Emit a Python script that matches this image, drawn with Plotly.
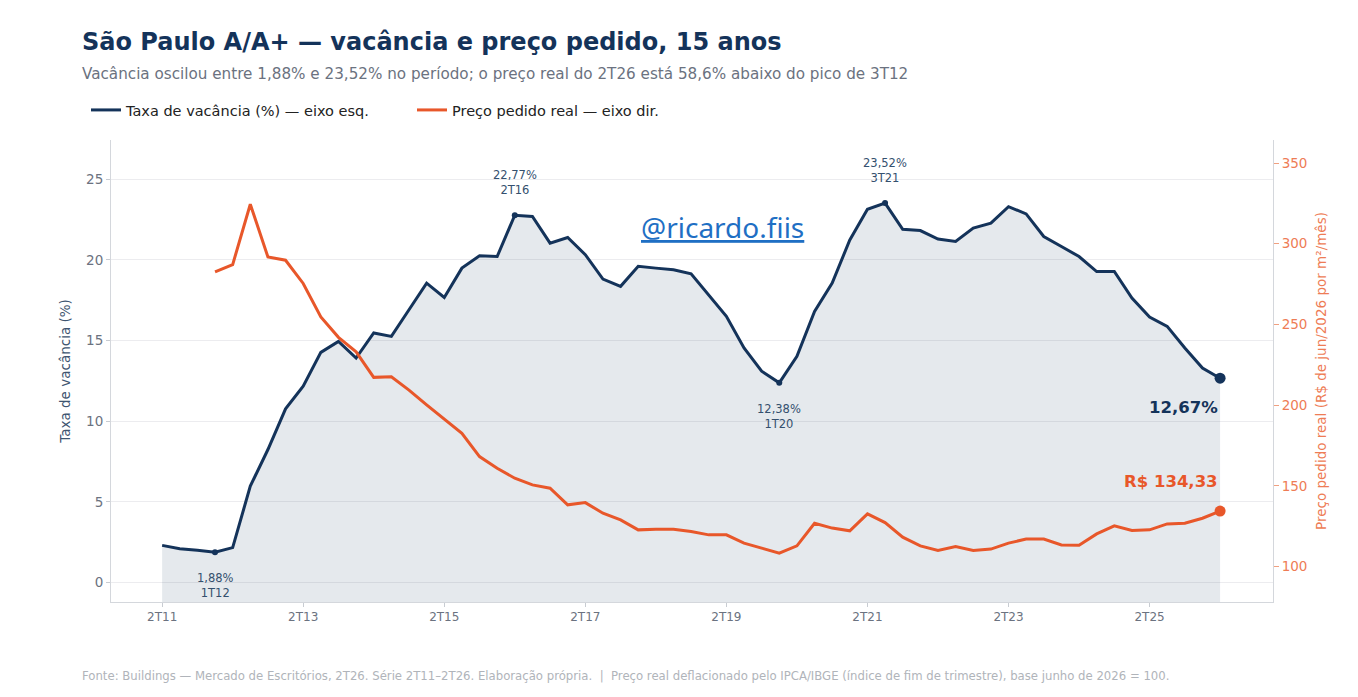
import plotly.graph_objects as go

# trimestres 2T11 .. 2T26
quarters = []
for yr in range(11, 27):
    for q in range(1, 5):
        if (yr == 11 and q < 2) or (yr == 26 and q > 2):
            continue
        quarters.append(f"{q}T{yr}")

tick_labels = ["2T11", "2T13", "2T15", "2T17", "2T19", "2T21", "2T23", "2T25"]

vacancia = [2.31, 2.10, 2.00, 1.88, 2.17, 5.98, 8.25, 10.77, 12.17, 14.27,
            14.95, 13.92, 15.47, 15.26, 16.91, 18.56, 17.67, 19.49, 20.25, 20.21,
            22.77, 22.69, 21.04, 21.39, 20.32, 18.81, 18.36, 19.60, 19.49, 19.39,
            19.14, 17.84, 16.50, 14.54, 13.10, 12.38, 14.03, 16.81, 18.56, 21.24,
            23.14, 23.52, 21.90, 21.82, 21.29, 21.14, 21.97, 22.28, 23.30, 22.85,
            21.45, 20.83, 20.21, 19.28, 19.28, 17.63, 16.46, 15.88, 14.54, 13.30,
            12.67]

preco = [None, None, None, 282.6, 287.1, 324.5, 291.8, 289.8, 275.4, 254.7,
         242.0, 233.0, 217.2, 217.6, 209.3, 200.1, 191.2, 182.5, 168.1, 160.9,
         154.7, 150.6, 148.5, 138.2, 139.6, 133.0, 128.9, 122.7, 123.1, 123.1,
         121.7, 119.6, 119.6, 114.5, 111.4, 108.3, 112.8, 126.8, 123.8, 122.1,
         132.6, 127.2, 118.2, 112.8, 109.9, 112.4, 109.9, 110.8, 114.5, 117.0,
         117.0, 113.4, 113.2, 120.2, 125.2, 122.3, 122.7, 126.4, 126.8, 129.9,
         134.33]

destaques = [("1T12", 1.88, "below"), ("2T16", 22.77, "above"),
             ("1T20", 12.38, "below"), ("3T21", 23.52, "above")]

NAVY = "#14335a"
ORANGE = "#e8572a"
GRAY = "#6b7280"
FONT = "DejaVu Sans"

y1_range = [-1.2, 27.43]
y2_range = [78, 364.3]

# area do grafico na pagina (px)
PL, PR, PT, PB = 111, 1273, 140, 602
OFF = 8  # margem do body


def px(xp):
    return (xp - PL) / (PR - PL)


def py(yp):
    return (PB - yp) / (PB - PT)


x = list(range(len(quarters)))

fig = go.Figure()

# preenchimento ate o fundo do eixo
fig.add_trace(go.Scatter(x=x, y=[y1_range[0]] * len(x), mode="lines",
                         line=dict(width=0), hoverinfo="skip", showlegend=False))
fig.add_trace(go.Scatter(x=x, y=vacancia, mode="lines", line=dict(width=0),
                         fill="tonexty", fillcolor="rgba(20,51,90,0.11)",
                         hoverinfo="skip", showlegend=False))

fig.add_trace(go.Scatter(x=x, y=vacancia, mode="lines", name="Taxa de vacância (%) — eixo esq.",
                         line=dict(color=NAVY, width=3), text=quarters))
fig.add_trace(go.Scatter(x=x, y=preco, mode="lines", name="Preço pedido real — eixo dir.",
                         line=dict(color=ORANGE, width=3), yaxis="y2", text=quarters))

# pontos de destaque
hx = [quarters.index(q) for q, v, p in destaques]
hy = [v for q, v, p in destaques]
fig.add_trace(go.Scatter(x=hx, y=hy, mode="markers", marker=dict(color=NAVY, size=6),
                         showlegend=False, hoverinfo="skip"))
fig.add_trace(go.Scatter(x=[x[-1]], y=[vacancia[-1]], mode="markers",
                         marker=dict(color=NAVY, size=11), showlegend=False, hoverinfo="skip"))
fig.add_trace(go.Scatter(x=[x[-1]], y=[preco[-1]], mode="markers", yaxis="y2",
                         marker=dict(color=ORANGE, size=11), showlegend=False, hoverinfo="skip"))

annotations = []
for q, v, pos in destaques:
    annotations.append(dict(
        x=quarters.index(q), y=v, xref="x", yref="y", showarrow=False,
        text=f"{v:.2f}%".replace(".", ",") + f"<br>{q}",
        font=dict(family=FONT, size=11.5, color="#34506e"), align="center",
        yanchor="bottom" if pos == "above" else "top",
        yshift=16 if pos == "above" else -17))

annotations.append(dict(x=x[-1], y=vacancia[-1], xref="x", yref="y", showarrow=False,
                        text="<b>" + f"{vacancia[-1]:.2f}%".replace(".", ",") + "</b>",
                        font=dict(family=FONT, size=16.5, color=NAVY),
                        xanchor="right", yanchor="top", yshift=-18))
annotations.append(dict(x=x[-1], y=preco[-1], xref="x", yref="y2", showarrow=False,
                        text="<b>R$ " + f"{preco[-1]:.2f}".replace(".", ",") + "</b>",
                        font=dict(family=FONT, size=16.5, color=ORANGE),
                        xanchor="right", yanchor="bottom", yshift=18))

annotations.append(dict(x=px(722), y=py(227), xref="paper", yref="paper", showarrow=False,
                        xanchor="center", yanchor="middle",
                        text="<u>@ricardo.fiis</u>",
                        font=dict(family="Noto Sans", size=28, color="#1f6fc4")))

annotations.append(dict(x=px(80), y=py(42), xref="paper", yref="paper", showarrow=False,
                        xanchor="left", yanchor="middle", align="left",
                        text="<b>São Paulo A/A+ — vacância e preço pedido, 15 anos</b>",
                        font=dict(family=FONT, size=24, color=NAVY)))
annotations.append(dict(x=px(80), y=py(74), xref="paper", yref="paper", showarrow=False,
                        xanchor="left", yanchor="middle", align="left",
                        text="Vacância oscilou entre 1,88% e 23,52% no período; o preço real do 2T26 "
                             "está 58,6% abaixo do pico de 3T12",
                        font=dict(family=FONT, size=15.2, color=GRAY)))
annotations.append(dict(x=px(80), y=py(676), xref="paper", yref="paper", showarrow=False,
                        xanchor="left", yanchor="middle", align="left",
                        text="Fonte: Buildings — Mercado de Escritórios, 2T26. Série 2T11–2T26. "
                             "Elaboração própria.  |  Preço real deflacionado pelo IPCA/IBGE "
                             "(índice de fim de trimestre), base junho de 2026 = 100.",
                        font=dict(family=FONT, size=11.7, color="#b0b4ba")))

fig.update_layout(
    width=1358, height=697,
    paper_bgcolor="white", plot_bgcolor="white",
    margin=dict(l=PL - OFF, r=1358 - PR + OFF, t=PT - OFF, b=697 - PB + OFF),
    font=dict(family=FONT, color=GRAY),
    showlegend=True,
    legend=dict(orientation="h", traceorder="normal", x=px(86), y=py(110),
                xanchor="left", yanchor="middle", entrywidth=281,
                font=dict(family=FONT, size=14.5, color="#222222"),
                bgcolor="rgba(0,0,0,0)"),
    xaxis=dict(range=[-2.9, 63], tickmode="array",
               tickvals=[quarters.index(t) for t in tick_labels], ticktext=tick_labels,
               showgrid=False, zeroline=False, showline=True, linecolor="#d4d7dc",
               ticks="outside", ticklen=4, tickcolor="#c8ccd2",
               tickfont=dict(family=FONT, size=12, color=GRAY)),
    yaxis=dict(range=y1_range, tickvals=[0, 5, 10, 15, 20, 25], showgrid=True,
               gridcolor="#ececef", zeroline=False, showline=True, linecolor="#d4d7dc",
               ticks="outside", ticklen=4, tickcolor="#c8ccd2",
               tickfont=dict(family=FONT, size=13.5, color=GRAY),
               title=dict(text="Taxa de vacância (%)", font=dict(family=FONT, size=13.5, color="#3e5570"),
                          standoff=12)),
    yaxis2=dict(range=y2_range, overlaying="y", side="right", anchor="x",
                tickvals=[100, 150, 200, 250, 300, 350], showgrid=False, zeroline=False,
                showline=True, linecolor="#d4d7dc", ticks="outside", ticklen=5, tickcolor="#f0a080",
                tickfont=dict(family=FONT, size=13.5, color="#ee7c55"),
                title=dict(text="Preço pedido real (R$ de jun/2026 por m²/mês)",
                           font=dict(family=FONT, size=13.5, color="#ee7c55"), standoff=10)),
    annotations=annotations,
    hovermode="x unified",
)

fig.write_html("out.html")
